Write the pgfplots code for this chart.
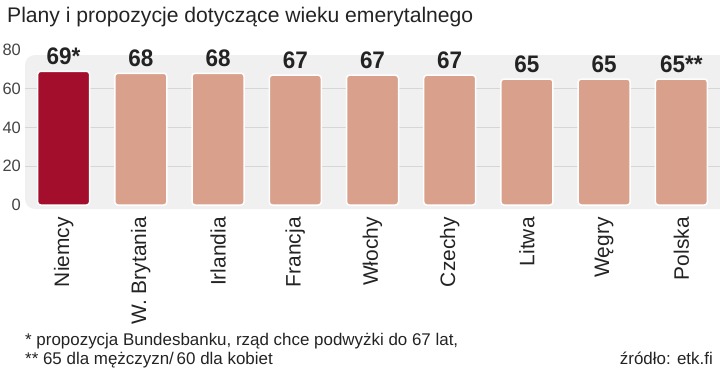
\documentclass[border=0pt]{standalone}
\usepackage{pgfplots}
\pgfplotsset{compat=1.18}
\usepackage{pgfplotstable}
\usepackage{fontspec}
\setmainfont{Liberation Sans}
\newfontfamily\lightfont{Liberation Sans}
\newfontfamily\condbold[FakeStretch=0.94]{Liberation Sans}
\definecolor{redbar}{RGB}{163,14,44}
\definecolor{salmon}{RGB}{217,160,139}
\definecolor{panel}{RGB}{240,240,240}
\definecolor{gridc}{RGB}{214,214,214}
\definecolor{txt}{RGB}{35,35,35}
\pgfplotstableread{
x y lab
0 69 69*
}\tabde
\pgfplotstableread{
x y lab
1 68 68
2 68 68
3 67 67
4 67 67
5 67 67
6 65 65
7 65 65
8 65 65**
}\tabrest
\begin{document}
\begin{tikzpicture}
\useasboundingbox (0,0) rectangle (720bp,-368bp);
\fill[panel, rounded corners=10bp] (25bp,-55bp) rectangle (740bp,-209bp);
\node[anchor=base west, inner sep=0, font=\lightfont\fontsize{21.2}{24}\selectfont, text=txt] at (7bp,-22bp) {Plany i propozycje dotyczące wieku emerytalnego};
\begin{axis}[
  at={(25bp,-50bp)}, anchor=north west,
  width=695bp, height=158.875bp, scale only axis,
  xmin=-0.5, xmax=8.5, ymin=-2, ymax=80,
  ybar, bar width=52bp, bar shift=0pt,
  axis line style={draw=none}, tick style={draw=none},
  ytick={20,40,60}, extra y ticks={0,80}, extra y tick style={grid=none},
  ymajorgrids, grid style={gridc, line width=0.8bp},
  /pgf/number format/assume math mode=true,
  yticklabel style={font=\lightfont\fontsize{16.5}{18}\selectfont, text=txt!85, inner sep=0pt},
  yticklabel shift=4bp,
  xtick={0,...,8},
  xticklabels={Niemcy, W. Brytania, Irlandia, Francja, Włochy, Czechy, Litwa, Węgry, Polska},
  xticklabel style={rotate=90, anchor=east, font=\fontsize{21}{24}\selectfont, text=txt, inner sep=0pt},
  xticklabel shift=4bp,
  point meta=explicit symbolic,
  nodes near coords,
  nodes near coords style={anchor=base, yshift=7bp, inner sep=0pt, font=\condbold\bfseries\fontsize{24}{26}\selectfont, text=txt},
  clip=false,
]
\addplot[fill=redbar, draw=white, line width=1.5bp, rounded corners=3bp] table[x=x, y=y, meta=lab] {\tabde};
\addplot[fill=salmon, draw=white, line width=1.5bp, rounded corners=3bp] table[x=x, y=y, meta=lab] {\tabrest};
\end{axis}
\node[anchor=base west, inner sep=0, font=\lightfont\fontsize{17}{20}\selectfont, text=txt] at (25bp,-345bp) {* propozycja Bundesbanku, rząd chce podwyżki do 67 lat,};
\node[anchor=base west, inner sep=0, font=\lightfont\fontsize{17}{20}\selectfont, text=txt] at (25bp,-364bp) {** 65 dla mężczyzn/\,60 dla kobiet};
\node[anchor=base east, inner sep=0, font=\lightfont\fontsize{17}{20}\selectfont, text=txt] at (713bp,-364bp) {źródło: etk.fi};
\end{tikzpicture}
\end{document}
